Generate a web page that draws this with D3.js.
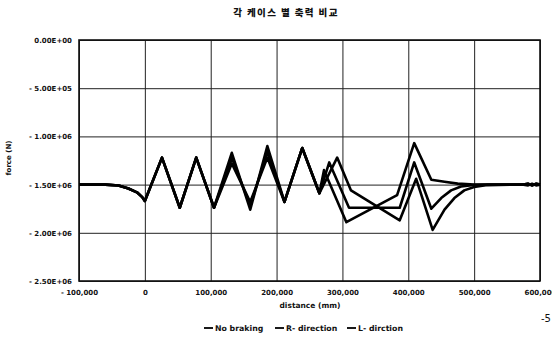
<!DOCTYPE html>
<html>
<head>
<meta charset="utf-8">
<script src="https://cdn.jsdelivr.net/npm/d3@7"></script>
<style>
  body { margin: 0; background: #fff; }
  text { font-family: "DejaVu Sans", sans-serif; font-weight: bold; fill: #111; }
</style>
</head>
<body>
<svg id="chart" width="552" height="339"></svg>
<script>
// tick values
var xTicks = [-100000, 0, 100000, 200000, 300000, 400000, 500000, 600000];
var yTicks = [0, -500000, -1000000, -1500000, -2000000, -2500000];

// series, [distance (mm), force (N)]
var noBraking = [
  [-100000, -1.50e6], [-60000, -1.50e6], [-40000, -1.51e6], [-25000, -1.54e6], [-12000, -1.58e6], [-4000, -1.63e6], [0, -1.67e6],
  [26000, -1.22e6], [53000, -1.74e6], [78000, -1.22e6], [105000, -1.74e6],
  [132000, -1.22e6], [160000, -1.72e6], [186000, -1.16e6], [212000, -1.68e6], [239000, -1.12e6], [265000, -1.59e6],
  [280000, -1.27e6], [310000, -1.74e6], [387000, -1.74e6], [409000, -1.27e6], [435000, -1.75e6],
  [450000, -1.64e6], [465000, -1.56e6], [480000, -1.52e6], [500000, -1.505e6], [520000, -1.50e6],
  [575000, -1.50e6], [582000, -1.492e6], [588000, -1.508e6], [594000, -1.492e6], [600000, -1.50e6]
];
var rDirection = [
  [-100000, -1.50e6], [-60000, -1.50e6], [-40000, -1.51e6], [-25000, -1.54e6], [-12000, -1.58e6], [-4000, -1.63e6], [0, -1.67e6],
  [26000, -1.22e6], [53000, -1.74e6], [78000, -1.22e6], [105000, -1.74e6],
  [132000, -1.17e6], [160000, -1.76e6], [186000, -1.10e6], [212000, -1.68e6], [239000, -1.12e6], [265000, -1.59e6],
  [272000, -1.35e6], [306000, -1.89e6], [383000, -1.61e6], [409000, -1.07e6], [435000, -1.45e6],
  [455000, -1.47e6], [475000, -1.49e6], [500000, -1.50e6],
  [575000, -1.50e6], [582000, -1.49e6], [588000, -1.51e6], [594000, -1.49e6], [600000, -1.50e6]
];
var lDirection = [
  [-100000, -1.50e6], [-60000, -1.50e6], [-40000, -1.51e6], [-25000, -1.54e6], [-12000, -1.58e6], [-4000, -1.63e6], [0, -1.67e6],
  [26000, -1.22e6], [53000, -1.74e6], [78000, -1.22e6], [105000, -1.74e6],
  [132000, -1.28e6], [160000, -1.68e6], [186000, -1.22e6], [212000, -1.68e6], [239000, -1.12e6], [265000, -1.59e6],
  [292000, -1.22e6], [313000, -1.56e6], [387000, -1.87e6], [412000, -1.44e6], [437000, -1.97e6],
  [455000, -1.76e6], [470000, -1.64e6], [485000, -1.56e6], [500000, -1.525e6], [520000, -1.505e6],
  [575000, -1.50e6], [582000, -1.508e6], [588000, -1.492e6], [594000, -1.508e6], [600000, -1.50e6]
];
var seriesNames = ["No braking", "R- direction", "L- dirction"];

var svg = d3.select("#chart"),
    plotL = 79, plotR = 540, plotT = 40, plotB = 281;

var x = d3.scaleLinear().domain([-100000, 600000]).range([plotL, plotR]);
var y = d3.scaleLinear().domain([-2500000, 0]).range([plotB, plotT]);

// title
svg.append("text")
  .attr("x", 286).attr("y", 16)
  .attr("text-anchor", "middle")
  .style("font-family", "'Noto Sans CJK KR', sans-serif")
  .style("font-size", "9.5px")
  .style("font-weight", "900")
  .style("letter-spacing", "1.4px")
  .text("각 케이스 별 축력 비교");

function yFmt(v) {
  if (v === 0) return "0.00E+00";
  var s = d3.format(".2e")(-v);          // 5.00e+5
  var p = s.split("e+");
  return "- " + p[0] + "E+" + (p[1].length < 2 ? "0" + p[1] : p[1]);
}
function xFmt(v) {
  return v < 0 ? "- " + d3.format(",")(-v) : d3.format(",")(v);
}

// y axis + horizontal grid
var gy = svg.append("g")
  .attr("transform", "translate(" + plotL + ",0)")
  .call(d3.axisLeft(y).tickValues(yTicks).tickFormat(yFmt).tickSize(-(plotR - plotL)).tickPadding(7));
gy.select(".domain").remove();
gy.selectAll(".tick line").attr("stroke", "#222").attr("stroke-width", 1);
gy.selectAll(".tick text").style("font-size", "7px").attr("dy", "0.35em");

// x axis + vertical grid
var gx = svg.append("g")
  .attr("transform", "translate(0," + plotB + ")")
  .call(d3.axisBottom(x).tickValues(xTicks).tickFormat(xFmt).tickSize(-(plotB - plotT)).tickPadding(9));
gx.select(".domain").remove();
gx.selectAll(".tick line").attr("stroke", "#222").attr("stroke-width", 1);
gx.selectAll(".tick text").style("font-size", "7px");

// frame
svg.append("rect")
  .attr("x", plotL).attr("y", plotT)
  .attr("width", plotR - plotL).attr("height", plotB - plotT)
  .attr("fill", "none").attr("stroke", "#111").attr("stroke-width", 1.6);

// axis titles
svg.append("text")
  .attr("transform", "translate(11,158) rotate(-90)")
  .attr("text-anchor", "middle")
  .style("font-size", "7px")
  .text("force (N)");
svg.append("text")
  .attr("x", 310).attr("y", 308)
  .attr("text-anchor", "middle")
  .style("font-size", "7.5px")
  .text("distance (mm)");

// lines
var line = d3.line()
  .x(function(d) { return x(d[0]); })
  .y(function(d) { return y(d[1]); });

svg.append("g").selectAll("path")
  .data([noBraking, rDirection, lDirection])
  .enter().append("path")
  .attr("d", line)
  .attr("fill", "none")
  .attr("stroke", "#000")
  .attr("stroke-width", 2.6)
  .attr("stroke-linejoin", "round");

// legend
var legendX = [204, 275, 347];
var lg = svg.append("g").selectAll("g")
  .data(seriesNames)
  .enter().append("g")
  .attr("transform", function(d, i) { return "translate(" + legendX[i] + ",328)"; });
lg.append("line")
  .attr("x1", 0).attr("x2", 9).attr("y1", 0).attr("y2", 0)
  .attr("stroke", "#000").attr("stroke-width", 1.8);
lg.append("text")
  .attr("x", 11).attr("y", 2.8)
  .style("font-size", "7.8px")
  .text(function(d) { return d; });

// scan fragment at the right margin
svg.append("text")
  .attr("x", 541).attr("y", 322)
  .style("font-size", "10px")
  .style("font-weight", "normal")
  .text("-5");
</script>
</body>
</html>
